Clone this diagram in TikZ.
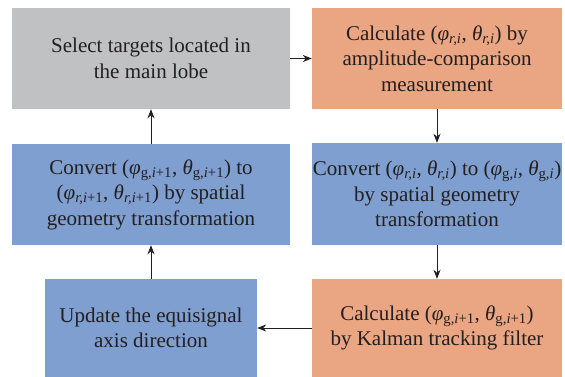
\documentclass[tikz,border=0pt]{standalone}
\usepackage{fontspec}
\setmainfont{Liberation Serif}
\usepackage{tikz}
\usetikzlibrary{arrows.meta}
\definecolor{boxgray}{RGB}{192,193,195}
\definecolor{boxorange}{RGB}{234,166,130}
\definecolor{boxblue}{RGB}{126,159,207}
\definecolor{ink}{RGB}{35,31,32}
% angle with a subscript, set in the text font
\newcommand{\ang}[2]{\textit{#1}\textsubscript{#2}}

\begin{document}
\begin{tikzpicture}[x=1pt,y=-1pt,
  box/.style={rectangle, inner sep=0pt, align=center, text=ink,
    font=\fontsize{21}{25.5}\selectfont},
  flow/.style={->,>={Stealth[length=9pt,width=7pt]},line width=1pt,ink}]
\useasboundingbox (0,0) rectangle (565,377);
\node[box, fill=boxgray, minimum width=278, minimum height=101] (sel) at (151,58.5)
  {Select targets located in\\the main lobe};
\node[box, fill=boxorange, minimum width=250, minimum height=101] (calc) at (437,58.5)
  {Calculate (\ang{φ}{\textit{r,i}}, \ang{θ}{\textit{r,i}}) by\\amplitude-comparison\\measurement};
\node[box, fill=boxblue, minimum width=278, minimum height=101] (convg) at (151,194.5)
  {Convert (\ang{φ}{g,\textit{i}+1}, \ang{θ}{g,\textit{i}+1}) to\\(\ang{φ}{\textit{r,i}+1}, \ang{θ}{\textit{r,i}+1}) by spatial\\geometry transformation};
\node[box, fill=boxblue, minimum width=250, minimum height=102] (convr) at (437,194)
  {Convert (\ang{φ}{\textit{r,i}}, \ang{θ}{\textit{r,i}}) to (\ang{φ}{g,\textit{i}}, \ang{θ}{g,\textit{i}})\\by spatial geometry\\transformation};
\node[box, fill=boxblue, minimum width=212, minimum height=98] (upd) at (151,328)
  {Update the equisignal\\axis direction};
\node[box, fill=boxorange, minimum width=250, minimum height=98] (kal) at (437,328)
  {Calculate (\ang{φ}{g,\textit{i}+1}, \ang{θ}{g,\textit{i}+1})\\by Kalman tracking filter};
\draw [flow] (sel) -- (calc);
\draw [flow] (calc) -- (convr);
\draw [flow] (convr) -- (kal);
\draw [flow] (kal) -- (upd);
\draw [flow] (upd) -- (convg);
\draw [flow] (convg) -- (sel);
\end{tikzpicture}
\end{document}
